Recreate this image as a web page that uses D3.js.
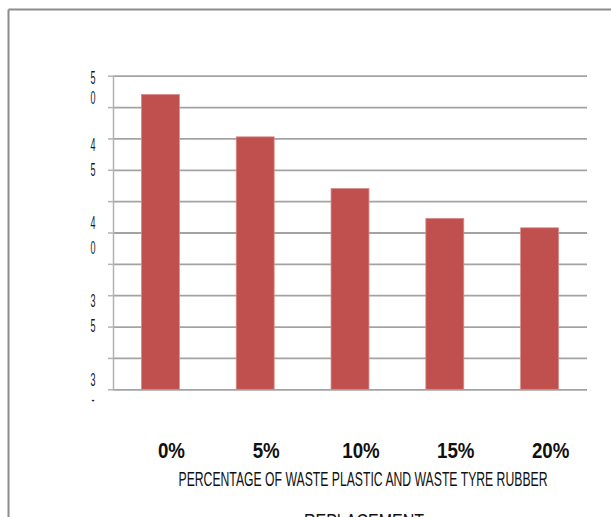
<!DOCTYPE html>
<html>
<head>
<meta charset="utf-8">
<script src="https://cdn.jsdelivr.net/npm/d3@7"></script>
<style>
  html, body { margin: 0; padding: 0; background: #fff; overflow: hidden; }
  svg { display: block; }
</style>
</head>
<body>
<svg id="chart" width="611" height="517"></svg>
<script>
// values
var categories = ["0%", "5%", "10%", "15%", "20%"];
var values = [48.8, 46.1, 42.8, 40.9, 40.3];
var yTickValues = [30, 32, 34, 36, 38, 40, 42, 44, 46, 48, 50];
// the y labels come out wrapped onto two lines in the original
var yLabelValues = [50, 45, 40, 35, 30];
var yLabelLines = [["5", "0"], ["4", "5"], ["4", "0"], ["3", "5"], ["3", "-"]];
var xTitle = "PERCENTAGE OF WASTE PLASTIC AND WASTE TYRE RUBBER";
var xTitle2 = "REPLACEMENT";

var W = 611, H = 517;
var plot = { left: 113, right: 587, top: 75.7, bottom: 389.3 };
var font = "'Liberation Sans', Arial, sans-serif";

var svg = d3.select("#chart");

// outer frame (only top and left edges show)
svg.append("line").attr("x1", 8.5).attr("x2", W).attr("y1", 9.5).attr("y2", 9.5)
  .attr("stroke", "#8c8c8c").attr("stroke-width", 2);
svg.append("line").attr("x1", 8.5).attr("x2", 8.5).attr("y1", 9.5).attr("y2", H)
  .attr("stroke", "#8c8c8c").attr("stroke-width", 2);

var x = d3.scaleBand().domain(categories).range([plot.left, plot.right])
  .paddingInner(0.6).paddingOuter(0.3);
var y = d3.scaleLinear().domain([30, 50]).range([plot.bottom, plot.top]);

// gridlines
var grid = svg.append("g").attr("transform", "translate(" + plot.left + ",0)")
  .call(d3.axisLeft(y).tickValues(yTickValues).tickSize(-(plot.right - plot.left)).tickFormat(""));
grid.select(".domain").remove();
grid.selectAll(".tick line").attr("stroke", "#a3a3a3").attr("stroke-width", 1.8);

// y axis with small ticks
var yAxis = svg.append("g").attr("transform", "translate(" + plot.left + ",0)")
  .call(d3.axisLeft(y).tickValues(yTickValues).tickSize(5).tickSizeOuter(0).tickFormat(""));
yAxis.select(".domain").attr("stroke", "#b3b3b3").attr("stroke-width", 1.5);
yAxis.selectAll(".tick line").attr("stroke", "#b3b3b3").attr("stroke-width", 1.5);

// bars
svg.append("g").selectAll("rect").data(values).enter().append("rect")
  .attr("x", function(d, i){ return x(categories[i]); })
  .attr("y", function(d){ return y(d); })
  .attr("width", x.bandwidth())
  .attr("height", function(d){ return y(30) - y(d); })
  .attr("fill", "#c0504d")
  .attr("stroke", "#d88a88").attr("stroke-width", 0.8);

// wrapped y labels (two lines each, squeezed narrow)
var yl = svg.append("g").attr("font-family", font).attr("font-size", 18).attr("fill", "#1a1a1a");
yLabelValues.forEach(function(v, i){
  var mid = Math.max(y(v) - 10, 78);
  var gap = (i === 0 || i === yLabelValues.length - 1) ? 20 : 25;
  var lines = yLabelLines[i];
  for (var k = 0; k < lines.length; k++) {
    yl.append("text")
      .attr("x", 93).attr("y", mid + k * gap + 6.5)
      .attr("text-anchor", "middle")
      .attr("transform", "translate(93,0) scale(0.5,1) translate(-93,0)")
      .text(lines[k]);
  }
});

// category labels
svg.append("g").selectAll("text").data(categories).enter().append("text")
  .attr("x", function(d){ return x(d) + x.bandwidth() / 2 + 11; })
  .attr("y", 458)
  .attr("text-anchor", "middle")
  .attr("transform", function(d){
    var cx = x(d) + x.bandwidth() / 2 + 11;
    return "translate(" + cx + ",0) scale(0.85,1) translate(" + (-cx) + ",0)";
  })
  .attr("font-family", font).attr("font-weight", "bold").attr("font-size", 22)
  .attr("fill", "#111")
  .text(function(d){ return d; });

// axis title, squeezed like the original
svg.append("text")
  .attr("x", 178.5).attr("y", 486)
  .attr("font-family", font).attr("font-size", 20).attr("fill", "#111")
  .attr("textLength", 369).attr("lengthAdjust", "spacingAndGlyphs")
  .text(xTitle);
svg.append("text")
  .attr("x", 364).attr("y", 528)
  .attr("text-anchor", "middle")
  .attr("transform", "translate(364,0) scale(0.8,1) translate(-364,0)")
  .attr("font-family", font).attr("font-size", 20).attr("fill", "#111")
  .text(xTitle2);
</script>
</body>
</html>
